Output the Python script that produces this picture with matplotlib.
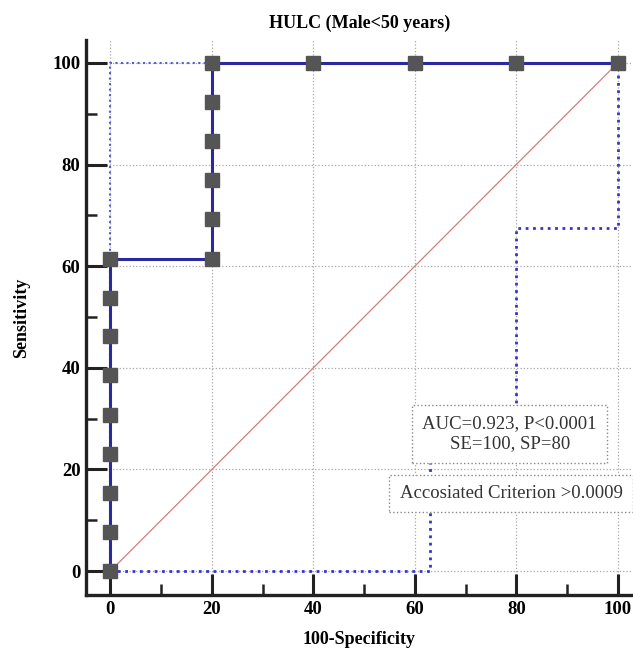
import matplotlib
matplotlib.use("Agg")
import matplotlib.pyplot as plt
from matplotlib.ticker import MultipleLocator

# ROC curve data (100-Specificity, Sensitivity)
fpr = [0, 0, 0, 0, 0, 0, 0, 0, 0, 20, 20, 20, 20, 20, 20, 40, 60, 80, 100]
tpr = [0, 7.7, 15.4, 23.1, 30.8, 38.5, 46.2, 53.8, 61.5, 61.5, 69.2, 76.9, 84.6, 92.3, 100, 100, 100, 100, 100]

# confidence bounds (dotted)
upper_x = [0, 0, 20]
upper_y = [0, 100, 100]
lower_x = [0, 63, 63, 80, 80, 100, 100]
lower_y = [0, 0, 25, 25, 67.5, 67.5, 100]

diag_x = [0, 100]
diag_y = [0, 100]

ticks = [0, 20, 40, 60, 80, 100]
title = "HULC (Male<50 years)"
xlabel = "100-Specificity"
ylabel = "Sensitivity"
box1_text = "AUC=0.923, P<0.0001\nSE=100, SP=80"
box2_text = "Accosiated Criterion >0.0009"

plt.rcParams['font.family'] = ['Liberation Serif', 'DejaVu Serif']

fig = plt.figure(figsize=(6.33, 6.51), dpi=100)
ax = fig.add_axes([86/633, 1-595/651, (633-86)/633, (595-40)/651])
ax.set_xlim(-4.8, 103)
ax.set_ylim(-4.7, 104.5)

ax.grid(True, which='major', color='#a8a8a8', linestyle=':', linewidth=0.9, zorder=0)

ax.plot(diag_x, diag_y, color='#d47c7c', linewidth=0.9, zorder=2)
ax.plot(upper_x, upper_y, color='#5a5ad8', linestyle=':', linewidth=1.5, zorder=2)
ax.plot(lower_x, lower_y, color='#3535cc', linestyle=':', linewidth=2.0, zorder=2)
ax.plot(fpr, tpr, color='#2a2a9e', linewidth=2.2, marker='s', markersize=10.5,
        markerfacecolor='#555555', markeredgecolor='#555555', zorder=4, clip_on=False)

ax.set_xticks(ticks)
ax.set_yticks(ticks)
ax.xaxis.set_minor_locator(MultipleLocator(10))
ax.yaxis.set_minor_locator(MultipleLocator(10))
ax.tick_params(which='major', direction='in', length=15, width=2.2, color='#222222',
               labelsize=13.5, pad=4)
ax.tick_params(which='minor', direction='in', length=8, width=1.8, color='#222222')
for lab in ax.get_xticklabels() + ax.get_yticklabels():
    lab.set_fontweight('bold')

for s in ['top', 'right']:
    ax.spines[s].set_visible(False)
for s in ['left', 'bottom']:
    ax.spines[s].set_linewidth(2.4)
    ax.spines[s].set_color('#222222')

ax.set_title(title, fontsize=13, fontweight='bold', pad=9)
ax.set_xlabel(xlabel, fontsize=13, fontweight='bold', labelpad=10)
ax.set_ylabel(ylabel, fontsize=13, fontweight='bold', labelpad=16)

bbox = dict(boxstyle='square,pad=0.55', facecolor='white', edgecolor='#888888',
            linestyle=':', linewidth=1.0)
ax.text(78.7, 27.0, box1_text, ha='center', va='center', fontsize=13.5,
        color='#333333', bbox=bbox, zorder=6, linespacing=1.25)
ax.text(79.0, 15.3, box2_text, ha='center', va='center', fontsize=13.5,
        color='#333333', bbox=bbox, zorder=6)

fig.savefig("out.png", dpi=100)
